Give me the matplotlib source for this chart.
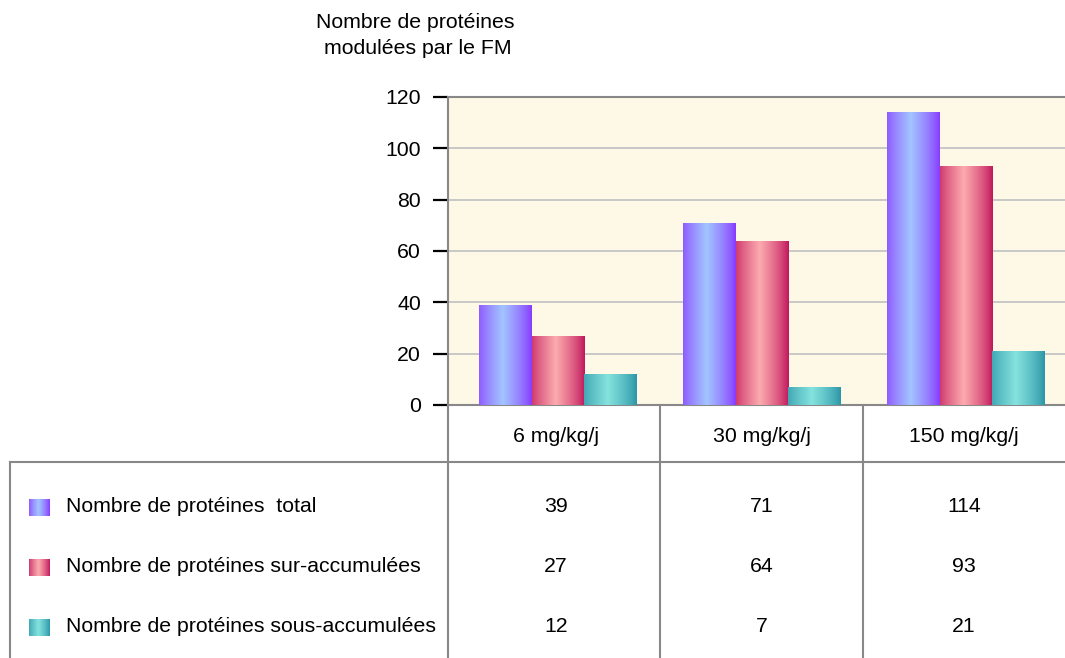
import numpy as np
import matplotlib
matplotlib.use('Agg')
import matplotlib.pyplot as plt
from matplotlib.lines import Line2D
from matplotlib.colors import LinearSegmentedColormap

plt.rcParams['font.family'] = ['Liberation Sans', 'DejaVu Sans']

# data
doses = ['6 mg/kg/j', '30 mg/kg/j', '150 mg/kg/j']
series = ['Nombre de protéines  total',
          'Nombre de protéines sur-accumulées',
          'Nombre de protéines sous-accumulées']
total = [39, 71, 114]
sur = [27, 64, 93]
sous = [12, 7, 21]
values = [total, sur, sous]

# gradient colours (edge, centre)
grads = [('#8838ff', '#a2c4ff'),
         ('#c0145a', '#fcaaae'),
         ('#2a94a6', '#84e2de')]

FS = 15.3
W, H = 1065, 658
fig = plt.figure(figsize=(W / 100, H / 100), dpi=100)


def fx(x):
    return x / W


def fy(y):
    return 1 - y / H


# plot area in pixels
left, right, top, bottom = 448, 1065, 97, 405
ax = fig.add_axes([fx(left), fy(bottom), fx(right - left), (bottom - top) / H])
ax.set_facecolor('#fef8e6')

# gradient profile: dark at edges, light a bit left of centre
t = np.linspace(0, 1, 200)
prof = np.clip(1 - np.abs(t - 0.45) / 0.55, 0, 1) ** 0.8
grad_img = prof.reshape(1, -1)

bw = 0.257
x = np.arange(len(doses))
for i, (vals, (c0, c1)) in enumerate(zip(values, grads)):
    cmap = LinearSegmentedColormap.from_list('g%d' % i, [c0, c1])
    bars = ax.bar(x + (i - 1) * bw, vals, width=bw, color='none', zorder=3)
    for b in bars:
        bx, by = b.get_x(), b.get_y()
        im = ax.imshow(grad_img, cmap=cmap, aspect='auto', zorder=3,
                       extent=[bx, bx + b.get_width(), by, by + b.get_height()],
                       interpolation='bilinear')
        im.set_clip_path(b)

ax.set_xlim(-0.5 - 8 / 204, 2.5 - 3 / 204)
ax.set_ylim(0, 120)
ax.set_yticks([0, 20, 40, 60, 80, 100, 120])
ax.set_xticks([])
ax.grid(axis='y', color='#c8c8c8', linewidth=1.4, zorder=1)
ax.tick_params(axis='y', length=10.8, width=1.6, color='black', labelsize=FS, pad=8.6)
for s in ['top', 'left', 'bottom']:
    ax.spines[s].set_color('#888888')
    ax.spines[s].set_linewidth(1.5)
ax.spines['right'].set_visible(False)

# title
fig.text(fx(415), fy(22), 'Nombre de protéines', ha='center', va='center', fontsize=FS)
fig.text(fx(418), fy(48), 'modulées par le FM', ha='center', va='center', fontsize=FS)

# table grid
lc = '#888888'
lines = [((448, 448), (405, 658)), ((660, 660), (405, 658)),
         ((863, 863), (405, 658)), ((10, 1065), (462, 462)),
         ((10, 10), (462, 658))]
for xs, ys in lines:
    fig.add_artist(Line2D([fx(v) for v in xs], [fy(v) for v in ys],
                          color=lc, linewidth=1.5, transform=fig.transFigure))

col_x = [556, 762, 964]
for cx, d in zip(col_x, doses):
    fig.text(fx(cx), fy(436), d, ha='center', va='center', fontsize=FS)

row_y = [507, 567, 627]
for ry, name, vals, (c0, c1) in zip(row_y, series, values, grads):
    cmap = LinearSegmentedColormap.from_list('l' + name, [c0, c1])
    sw = fig.add_axes([fx(29), fy(ry + 9), fx(20), 17 / H])
    sw.imshow(grad_img, cmap=cmap, aspect='auto', interpolation='bilinear')
    sw.set_xticks([])
    sw.set_yticks([])
    for s in sw.spines.values():
        s.set_visible(False)
    fig.text(fx(66), fy(ry), name, ha='left', va='center', fontsize=FS)
    for cx, v in zip(col_x, vals):
        fig.text(fx(cx), fy(ry), str(v), ha='center', va='center', fontsize=FS)

fig.savefig('out.png', dpi=100)
